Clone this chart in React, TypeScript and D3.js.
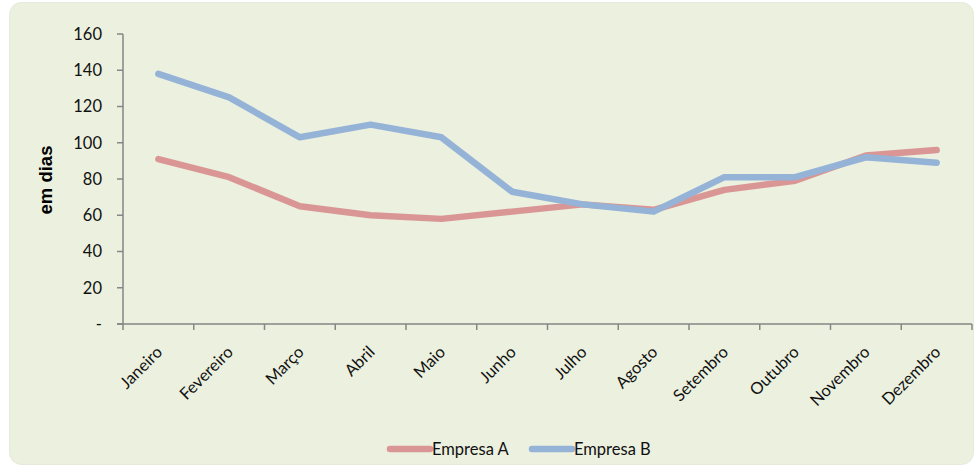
import React from "react";
import * as d3 from "d3";

const months = ["Janeiro","Fevereiro","Março","Abril","Maio","Junho","Julho","Agosto","Setembro","Outubro","Novembro","Dezembro"];
const empresaA = [91, 81, 65, 60, 58, 62, 66, 63, 74, 79, 93, 96];
const empresaB = [138, 125, 103, 110, 103, 73, 66, 62, 81, 81, 92, 89];
const yTicks = [0, 20, 40, 60, 80, 100, 120, 140, 160];
const seriesNames = ["Empresa A", "Empresa B"];
const seriesColors = ["#D99694", "#95B3D7"];

const W = 977, H = 468;
const FONT = "Lato, 'Open Sans', sans-serif";
const FS = 16.5;

export default function App() {
  const x = d3.scaleBand<string>().domain(months).range([123, 972]).padding(0);
  const y = d3.scaleLinear().domain([0, 160]).range([324, 34]);
  const line = d3.line<number>()
    .x((_, i) => (x(months[i]) as number) + x.bandwidth() / 2)
    .y((d) => y(d));
  const boundaries = months.map((m) => x(m) as number).concat([972]);
  const all = [empresaA, empresaB];
  const legendX = [390, 532];
  return (
    <svg width={W} height={H} style={{ position: "absolute", left: 0, top: 0 }}>
      <rect x={0} y={0} width={W} height={H} fill="#ffffff" />
      <rect x={9.5} y={2.5} width={964} height={462} rx={12} fill="#EBF0DF" stroke="#E6EADA" />
      {/* y axis */}
      <line x1={123} x2={123} y1={34} y2={324} stroke="#868686" strokeWidth={1.5} />
      {yTicks.map((t) => (
        <g key={t}>
          <line x1={117} x2={123} y1={y(t)} y2={y(t)} stroke="#868686" strokeWidth={1.5} />
          <text x={102} y={y(t)} dy="0.36em" textAnchor="end" fontFamily={FONT} fontSize={FS} fill="#111">
            {t === 0 ? "-" : t}
          </text>
        </g>
      ))}
      {/* x axis */}
      <line x1={117} x2={972} y1={324} y2={324} stroke="#868686" strokeWidth={1.5} />
      {boundaries.map((b, i) => (
        <line key={i} x1={b} x2={b} y1={324} y2={330} stroke="#868686" strokeWidth={1.5} />
      ))}
      {months.map((m) => {
        const cx = (x(m) as number) + x.bandwidth() / 2;
        return (
          <text key={m} transform={`translate(${cx + 1},${349}) rotate(-45)`} textAnchor="end" dy="0.35em"
            fontFamily={FONT} fontSize={FS} fill="#111">{m}</text>
        );
      })}
      <text transform={`translate(52,180) rotate(-90)`} textAnchor="middle" fontFamily="'Liberation Sans', Arial, sans-serif"
        fontWeight="bold" fontSize={18.5} fill="#000">em dias</text>
      {all.map((s, i) => (
        <path key={i} d={line(s) || ""} fill="none" stroke={seriesColors[i]} strokeWidth={6.5}
          strokeLinejoin="round" strokeLinecap="round" />
      ))}
      {seriesNames.map((n, i) => (
        <g key={n}>
          <line x1={legendX[i]} x2={legendX[i] + 40} y1={449} y2={449} stroke={seriesColors[i]} strokeWidth={6.5} strokeLinecap="round" />
          <text x={legendX[i] + 42} y={449} dy="0.36em" fontFamily={FONT} fontSize={FS} fill="#111">{n}</text>
        </g>
      ))}
    </svg>
  );
}
